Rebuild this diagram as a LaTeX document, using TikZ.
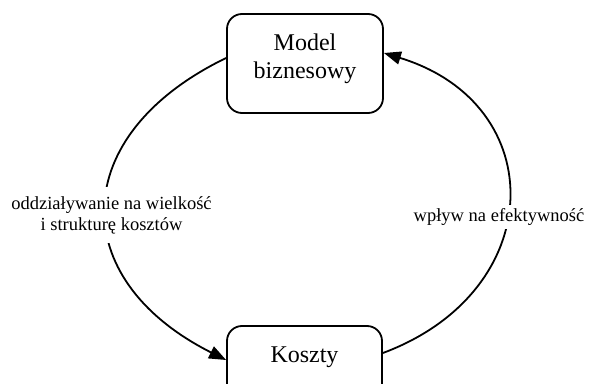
\documentclass[tikz,border=0pt]{standalone}
\usepackage{fontspec}
\setmainfont{Liberation Serif}
\usetikzlibrary{arrows.meta}
\begin{document}
\begin{tikzpicture}[x=1pt,y=1pt,
  boxnode/.style={draw,line width=1.8pt,rounded corners=15pt,font=\fontsize{24}{28}\selectfont,align=center},
  lbl/.style={fill=white,font=\fontsize{18.5}{21}\selectfont,align=center,inner xsep=2pt},
  conn/.style={line width=1.8pt,-{Triangle[length=17pt,width=13pt]}}]
\clip (0,0) rectangle (589,383);
\fill[white] (0,0) rectangle (589,383);
\node[boxnode,minimum width=156pt,minimum height=99pt,text depth=15pt] (top) at (305,319.5) {Model\\biznesowy};
\node[boxnode,anchor=base,minimum width=155pt,text height=36pt,text depth=40pt,inner ysep=0pt] (bot) at (304.5,21) {Koszty};
\draw[conn] ([yshift=5.5pt]top.west) .. controls +(-159,-77) and +(-161,81) .. ([yshift=4pt]bot.west);
\draw[conn] ([yshift=11pt]bot.east) .. controls +(165.7,61.7) and +(167.7,-51.2) .. ([yshift=10.5pt]top.east);
\node[lbl,inner ysep=9pt] (l1) at (111.5,168) {oddziaływanie na wielkość\\i strukturę kosztów};
\node[lbl,inner ysep=3pt] (l2) at (499,166) {wpływ na efektywność};
\end{tikzpicture}
\end{document}
